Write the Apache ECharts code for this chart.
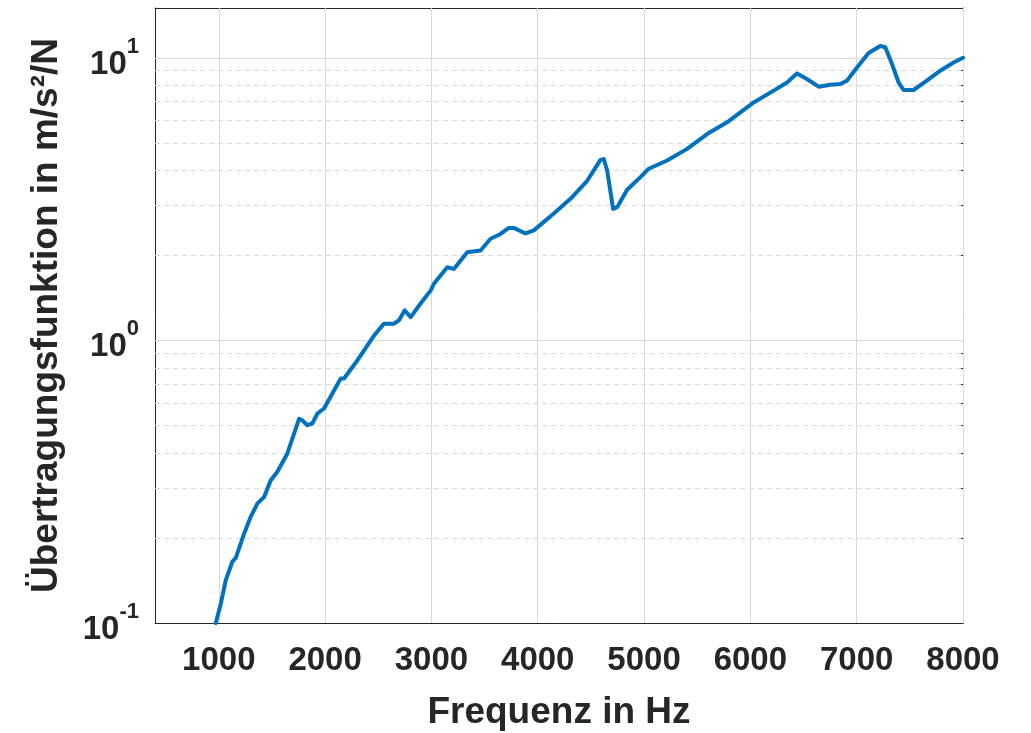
<!DOCTYPE html>
<html>
<head>
<meta charset="utf-8">
<script src="https://cdn.jsdelivr.net/npm/echarts@6/dist/echarts.min.js"></script>
<style>html,body{margin:0;padding:0;background:#fff}#c{width:1031px;height:733px}</style>
</head>
<body>
<div id="c"></div>
<script>
const freqHz = [972,1019,1066,1128,1160,1238,1301,1364,1426,1489,1551,1645,1755,1786,1833,1880,1927,1990,2068,2147,2178,2303,2460,2554,2648,2695,2748,2805,2898,2992,3023,3149,3211,3337,3462,3556,3650,3728,3775,3885,3963,4151,4308,4465,4590,4621,4653,4709,4747,4841,4966,5044,5217,5405,5593,5781,5906,6031,6219,6345,6438,6532,6642,6752,6846,6909,7003,7112,7222,7269,7332,7394,7441,7535,7660,7786,7911,8000];
const magnitude = [0.1,0.117,0.142,0.165,0.170,0.207,0.238,0.265,0.279,0.320,0.343,0.398,0.528,0.521,0.501,0.508,0.551,0.574,0.649,0.733,0.733,0.849,1.04,1.146,1.146,1.178,1.276,1.209,1.35,1.50,1.585,1.815,1.79,2.05,2.08,2.29,2.38,2.50,2.50,2.39,2.45,2.81,3.17,3.67,4.35,4.38,3.99,2.92,2.96,3.41,3.78,4.05,4.33,4.76,5.37,5.91,6.41,6.95,7.65,8.18,8.8,8.41,7.90,8.03,8.07,8.30,9.24,10.4,11.0,10.9,9.50,8.18,7.69,7.69,8.30,9.0,9.62,10.0];
const xTicks = [1000,2000,3000,4000,5000,6000,7000,8000];
const yMajor = [0.1,1,10];
const yMinor = [0.2,0.3,0.4,0.5,0.6,0.7,0.8,0.9,2,3,4,5,6,7,8,9];
const xTitle = 'Frequenz in Hz';
const yTitle = 'Übertragungsfunktion in m/s²/N';

const FONT = '"Liberation Sans", Arial, Helvetica, sans-serif';
const TXT = '#262626';
const AX = '#262626';
const GRIDC = '#d9d9d9';

const chart = echarts.init(document.getElementById('c'), null, {renderer: 'canvas'});
const data = freqHz.map((f, i) => [f, magnitude[i]]);

const expOf = v => String(Math.round(Math.log10(v)));

const commonX = {type: 'value', min: 400, max: 8000, gridIndex: 0};
const commonY = {type: 'log', logBase: 10, min: 0.1, max: 15, gridIndex: 0};
const lineAx = {show: true, lineStyle: {color: AX, width: 1}};

const option = {
  animation: false,
  backgroundColor: '#ffffff',
  grid: {left: 155, right: 68, top: 8, bottom: 110, containLabel: false, outerBoundsMode: 'none'},
  xAxis: [
    Object.assign({}, commonX, {
      position: 'bottom',
      name: xTitle, nameLocation: 'middle', nameGap: 71,
      nameTextStyle: {fontSize: 37, fontWeight: 'bold', fontFamily: FONT, color: TXT},
      axisLine: lineAx,
      axisTick: {show: true, inside: true, length: 8, lineStyle: {color: AX}, customValues: xTicks},
      axisLabel: {show: true, customValues: xTicks, margin: 21, fontSize: 33, fontWeight: 'bold', fontFamily: FONT, color: TXT,
        formatter: v => String(v)},
      splitLine: {show: false}
    }),
    Object.assign({}, commonX, {
      position: 'top',
      axisLine: lineAx,
      axisTick: {show: true, inside: true, length: 8, lineStyle: {color: AX}, customValues: xTicks},
      axisLabel: {show: false},
      splitLine: {show: false}
    })
  ],
  yAxis: [
    Object.assign({}, commonY, {
      position: 'left',
      name: yTitle, nameLocation: 'middle', nameGap: 90, nameRotate: 90,
      nameTextStyle: {fontSize: 37, fontWeight: 'bold', fontFamily: FONT, color: TXT},
      axisLine: lineAx,
      axisTick: {show: true, inside: true, length: 8, lineStyle: {color: AX}, customValues: yMajor},
      axisLabel: {show: true, customValues: yMajor, margin: 16, verticalAlign: 'middle', padding: [14, 0, 0, 0],
        formatter: v => '{b|10}{t|' + expOf(v) + '}',
        rich: {
          b: {fontSize: 33, lineHeight: 33, fontWeight: 'bold', fontFamily: FONT, color: TXT},
          t: {fontSize: 22, lineHeight: 33, fontWeight: 'bold', fontFamily: FONT, color: 'rgba(0,0,0,0)'}
        }},
      splitLine: {show: false}
    }),
    Object.assign({}, commonY, {
      position: 'left',
      axisLine: {show: false},
      axisTick: {show: true, inside: true, length: 5, lineStyle: {color: AX}, customValues: yMinor},
      axisLabel: {show: false},
      splitLine: {show: false}
    }),
    Object.assign({}, commonY, {
      position: 'right',
      axisLine: lineAx,
      axisTick: {show: true, inside: true, length: 8, lineStyle: {color: AX}, customValues: yMajor},
      axisLabel: {show: false},
      splitLine: {show: false}
    }),
    Object.assign({}, commonY, {
      position: 'right',
      axisLine: {show: false},
      axisTick: {show: true, inside: true, length: 5, lineStyle: {color: AX}, customValues: yMinor},
      axisLabel: {show: false},
      splitLine: {show: false}
    }),
    Object.assign({}, commonY, {
      position: 'left',
      axisLine: {show: false},
      axisTick: {show: false},
      axisLabel: {show: true, customValues: yMajor, margin: 16, verticalAlign: 'bottom',
        fontSize: 22, lineHeight: 22, fontWeight: 'bold', fontFamily: FONT, color: TXT, formatter: expOf},
      splitLine: {show: false}
    })
  ],
  series: [
    {
      type: 'line', xAxisIndex: 0, yAxisIndex: 0, data: [], z: 1, silent: true,
      markLine: {
        silent: true, symbol: 'none', animation: false,
        label: {show: false},
        lineStyle: {color: GRIDC, width: 1, type: 'solid'},
        data: xTicks.map(v => ({xAxis: v})).concat(yMajor.slice(1).map(v => ({yAxis: v})))
          .concat(yMinor.map(v => ({yAxis: v, lineStyle: {color: GRIDC, width: 1, type: [5, 4]}})))
      }
    },
    {
      type: 'line', xAxisIndex: 0, yAxisIndex: 0, data: data, z: 5,
      showSymbol: false, symbol: 'none', smooth: false,
      lineStyle: {color: '#0072BD', width: 4, join: 'round', cap: 'round'}
    }
  ]
};
chart.setOption(option);
</script>
</body>
</html>
